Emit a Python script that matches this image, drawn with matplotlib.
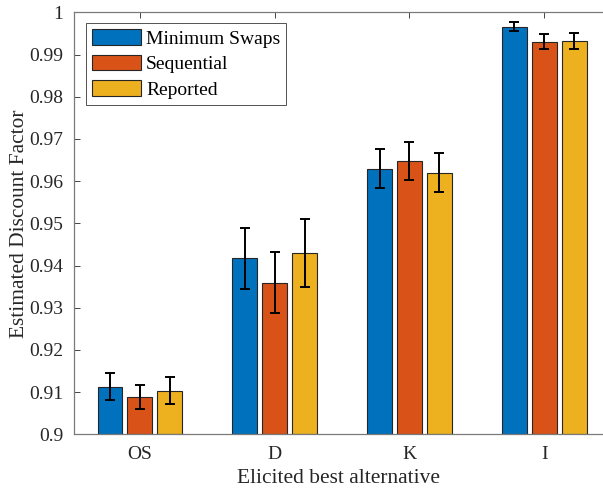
import matplotlib
matplotlib.use("Agg")
import matplotlib.pyplot as plt
import numpy as np

categories = ["OS", "D", "K", "I"]
series_names = ["Minimum Swaps", "Sequential", "Reported"]
min_swaps = [0.9113, 0.9417, 0.9629, 0.9966]
min_swaps_err = [0.0032, 0.0073, 0.0046, 0.0011]
sequential = [0.9089, 0.9359, 0.9648, 0.9930]
sequential_err = [0.0028, 0.0072, 0.0045, 0.0018]
reported = [0.9103, 0.9430, 0.9620, 0.9931]
reported_err = [0.0032, 0.0080, 0.0047, 0.0019]
yticks = [0.9, 0.91, 0.92, 0.93, 0.94, 0.95, 0.96, 0.97, 0.98, 0.99, 1.0]
ytick_labels = ["0.9", "0.91", "0.92", "0.93", "0.94", "0.95", "0.96", "0.97", "0.98", "0.99", "1"]

colors = ["#0072BD", "#D95319", "#EDB120"]

plt.rcParams['font.family'] = ['Liberation Serif', 'DejaVu Serif']

W, H = 603, 491
fig = plt.figure(figsize=(W / 100, H / 100), dpi=100)
left, right, top, bottom = 74, 603, 12.3, 434.3
ax = fig.add_axes([left / W, 1 - bottom / H, (right - left) / W, (bottom - top) / H])

x = np.arange(1, len(categories) + 1)
offset = 0.222
width = 0.183
data = [(min_swaps, min_swaps_err), (sequential, sequential_err), (reported, reported_err)]
for i, ((vals, errs), name, c) in enumerate(zip(data, series_names, colors)):
    xs = x + (i - 1) * offset
    ax.bar(xs, np.array(vals) - 0.9, width, bottom=0.9, color=c, edgecolor='#262626',
           linewidth=0.8, label=name, zorder=2)
    ax.errorbar(xs, vals, yerr=errs, fmt='none', ecolor='black', elinewidth=1.4,
                capsize=3.6, capthick=1.4, zorder=3)

ax.set_ylim(0.9, 1.0)
ax.set_xlim(0.512, 4.435)
ax.set_yticks(yticks)
ax.set_yticklabels(ytick_labels)
ax.set_xticks(x)
ax.set_xticklabels(categories)
ax.tick_params(axis='both', direction='in', length=4, width=0.6, color='#262626',
               labelsize=14, labelcolor='#262626', top=True, right=False)
ax.tick_params(axis='x', pad=8.5)
ax.tick_params(axis='y', pad=7.5)
for s in ['left', 'bottom', 'top']:
    ax.spines[s].set_color('#7a7a7a')
    ax.spines[s].set_linewidth(0.9)
ax.spines['right'].set_visible(False)

ax.set_ylabel("Estimated Discount Factor", fontsize=15.4, color='#262626', labelpad=0)
ax.set_xlabel("Elicited best alternative", fontsize=15.4, color='#262626', labelpad=4)

leg = ax.legend(loc='upper left', bbox_to_anchor=((85.7 - left) / (right - left), 1 - (23.3 - top) / (bottom - top)),
                borderaxespad=0, fontsize=14, frameon=True, fancybox=False,
                edgecolor='#262626', handlelength=2.56, handleheight=0.86,
                handletextpad=0.24, borderpad=0.3, labelspacing=0.36)
leg.get_frame().set_linewidth(0.7)

fig.savefig("out.png", dpi=100)
